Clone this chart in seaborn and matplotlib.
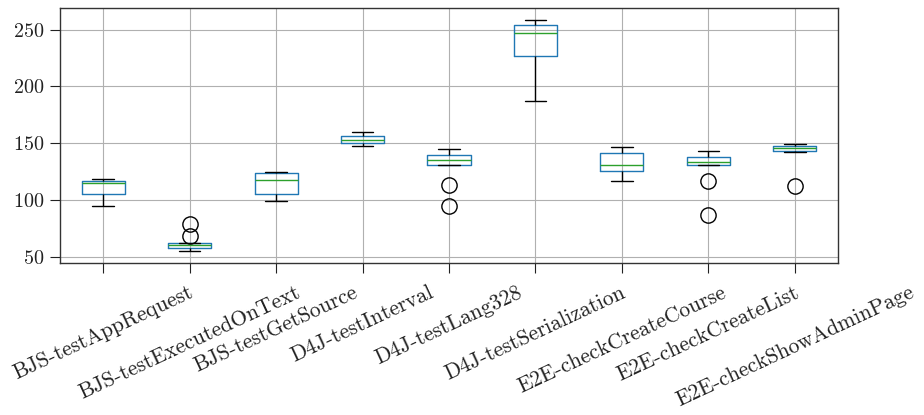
import matplotlib
matplotlib.use('agg')
import matplotlib.pyplot as plt
import seaborn as sns
import pandas as pd

# Tempos medidos por teste (9 execuções cada)
tests = ['BJS-testAppRequest', 'BJS-testExecutedOnText', 'BJS-testGetSource',
         'D4J-testInterval', 'D4J-testLang328', 'D4J-testSerialization',
         'E2E-checkCreateCourse', 'E2E-checkCreateList', 'E2E-checkShowAdminPage']

bjs_app_request = [95.2, 101.0, 105.1, 110.0, 114.8, 116.0, 116.8, 117.5, 118.3]
bjs_executed_on_text = [55.0, 57.0, 58.2, 59.5, 60.5, 61.2, 62.0, 68.4, 79.3]
bjs_get_source = [99.5, 102.0, 105.1, 112.0, 117.4, 120.0, 123.9, 124.3, 124.7]
d4j_interval = [147.6, 149.0, 150.2, 151.5, 152.9, 154.5, 156.4, 158.0, 160.3]
d4j_lang328 = [95.2, 113.3, 131.3, 133.0, 135.3, 137.0, 139.4, 142.0, 144.9]
d4j_serialization = [187.0, 210.0, 227.1, 240.0, 246.7, 250.0, 254.4, 256.0, 258.8]
e2e_create_course = [116.5, 121.0, 126.0, 129.0, 131.3, 136.0, 141.8, 144.0, 146.7]
e2e_create_list = [86.6, 116.5, 131.1, 132.0, 133.3, 135.5, 138.2, 140.0, 142.9]
e2e_show_admin = [112.8, 142.3, 143.2, 145.0, 146.2, 147.0, 147.6, 148.5, 149.7]

series = [bjs_app_request, bjs_executed_on_text, bjs_get_source, d4j_interval,
          d4j_lang328, d4j_serialization, e2e_create_course, e2e_create_list,
          e2e_show_admin]

rows = []
for name, values in zip(tests, series):
    for v in values:
        rows.append({'test': name, 'time': v})
df = pd.DataFrame(rows)

sns.set_theme(style='whitegrid', rc={
    'grid.color': '#b0b0b0',
    'grid.linewidth': 0.8,
    'axes.edgecolor': '#333333',
    'axes.linewidth': 1.0,
    'xtick.bottom': True,
    'ytick.left': True,
    'xtick.major.size': 7.5,
    'ytick.major.size': 7.5,
    'xtick.major.width': 0.8,
    'ytick.major.width': 0.8,
    'xtick.major.pad': 6.5,
    'xtick.color': '#222222',
    'ytick.color': '#222222',
})
plt.rcParams['font.family'] = ['cmr10', 'DejaVu Serif']
plt.rcParams['mathtext.fontset'] = 'cm'
plt.rcParams['axes.formatter.use_mathtext'] = True
plt.rcParams['axes.unicode_minus'] = False

fig, ax = plt.subplots(figsize=(9.24, 4.15), dpi=100)

sns.boxplot(data=df, x='test', y='time', order=tests, ax=ax,
            fill=False, color='#1f77b4', width=0.5, linewidth=1.0,
            whiskerprops={'color': 'black'},
            capprops={'color': 'black'},
            medianprops={'color': '#2ca02c'},
            flierprops={'marker': 'o', 'markersize': 11,
                        'markerfacecolor': 'none', 'markeredgecolor': 'black',
                        'markeredgewidth': 1.0})

ax.grid(True, axis='both')
ax.set_xlabel('')
ax.set_ylabel('')
ax.set_yticks([50, 100, 150, 200, 250])

plt.xticks(rotation=25, fontsize=15.5)
plt.yticks(fontsize=14.5)

fig.subplots_adjust(left=60/924, right=838/924, top=1-8/415, bottom=1-263/415)
plt.savefig('out.png', dpi=100)
plt.close()
